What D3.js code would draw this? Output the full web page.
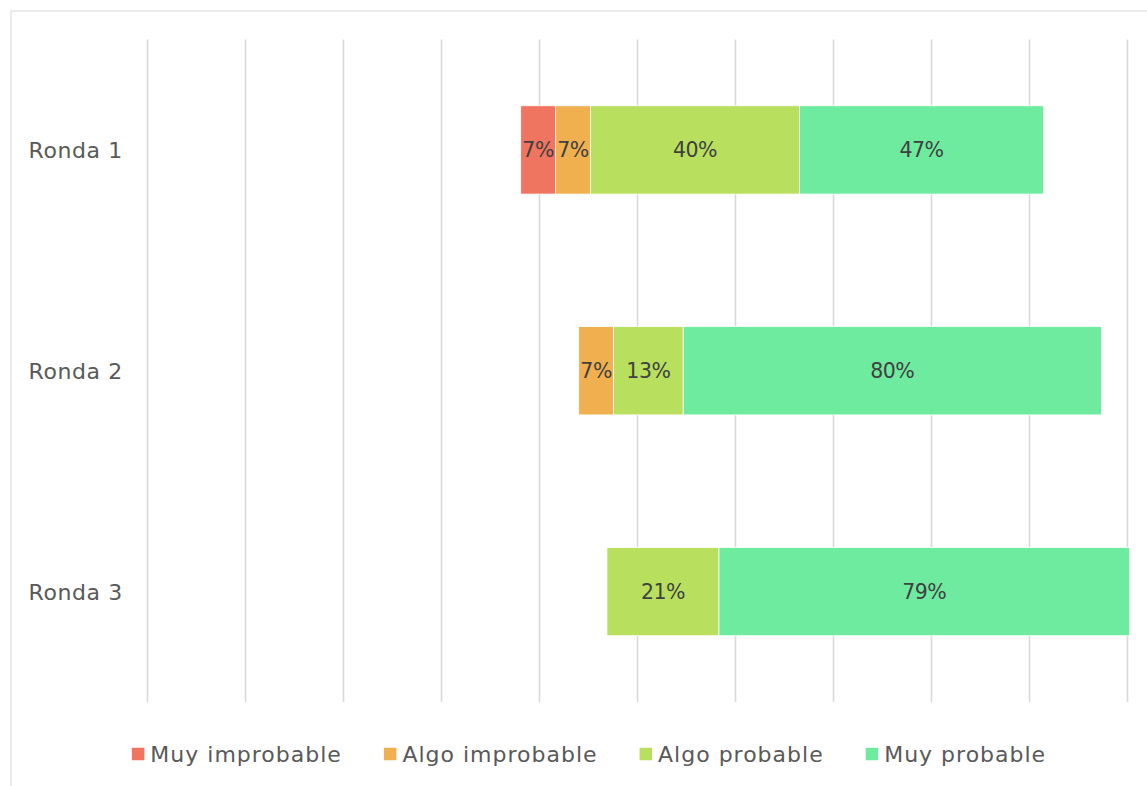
<!DOCTYPE html>
<html><head><meta charset="utf-8">
<script src="https://cdn.jsdelivr.net/npm/d3@7"></script>
<style>body{margin:0;background:#fff}</style>
</head><body><svg id="chart" width="1147" height="786"></svg>
<script>
// Survey rounds and the share of answers in each likelihood category (%)
const categories = ["Ronda 1", "Ronda 2", "Ronda 3"];
const seriesNames = ["Muy improbable", "Algo improbable", "Algo probable", "Muy probable"];
const muyImprobable  = [6.67, 0, 0];
const algoImprobable = [6.67, 6.67, 0];
const algoProbable   = [40.00, 13.33, 21.43];
const muyProbable    = [46.67, 80.00, 78.57];
// invisible spacer that pushes each bar to the right
const offsets = [71.4, 82.5, 87.9];
const axisMax = 187.5;
const gridCount = 10;
const colors = ["#F07560", "#F0B050", "#B8E05E", "#6FEBA0"];

const font = "'Century Gothic', 'DejaVu Sans', sans-serif";
const svg = d3.select("#chart");

// chart frame
svg.append("rect").attr("x", 11).attr("y", 11).attr("width", 1150).attr("height", 790)
  .attr("fill", "none").attr("stroke", "#d9d9d9").attr("stroke-width", 1);

const x = d3.scaleLinear().domain([0, axisMax]).range([147.5, 1127.5]);
const y = d3.scaleBand().domain(categories).range([39.5, 702]).paddingInner(0.6).paddingOuter(0.3);

// vertical gridlines
const gridVals = d3.range(gridCount + 1).map(i => axisMax * i / gridCount);
svg.append("g").selectAll("line").data(gridVals).join("line")
  .attr("x1", d => x(d)).attr("x2", d => x(d))
  .attr("y1", 39.5).attr("y2", 702)
  .attr("stroke", "#d9d9d9").attr("stroke-width", 1.6);

const seriesValues = [muyImprobable, algoImprobable, algoProbable, muyProbable];
const rows = categories.map((c, i) => {
  const r = { cat: c, offset: offsets[i] };
  seriesNames.forEach((s, j) => r[s] = seriesValues[j][i]);
  return r;
});
const stack = d3.stack().keys(["offset", ...seriesNames]);
const layers = stack(rows).slice(1);

const fmt = v => d3.format(".0f")(v) + "%";

const lg = svg.append("g").selectAll("g").data(layers).join("g")
  .attr("fill", (d, i) => colors[i]);
lg.selectAll("rect").data(d => d.filter(p => p[1] - p[0] > 0)).join("rect")
  .attr("x", p => x(p[0]))
  .attr("width", p => x(p[1]) - x(p[0]))
  .attr("y", p => y(p.data.cat))
  .attr("height", y.bandwidth())
  .attr("stroke", "#ffffff").attr("stroke-width", 0.8);

// value labels
const labelG = svg.append("g");
layers.forEach(layer => {
  layer.filter(p => p[1] - p[0] > 0).forEach(p => {
    labelG.append("text")
      .attr("x", (x(p[0]) + x(p[1])) / 2)
      .attr("y", y(p.data.cat) + y.bandwidth() / 2)
      .attr("dy", "0.36em")
      .attr("text-anchor", "middle")
      .attr("font-family", font).attr("font-size", 20.5)
      .attr("letter-spacing", -0.5)
      .attr("fill", "#404040")
      .text(fmt(p[1] - p[0]));
  });
});

// category labels
svg.append("g").selectAll("text").data(categories).join("text")
  .attr("x", 28.5)
  .attr("y", d => y(d) + y.bandwidth() / 2)
  .attr("dy", "0.36em")
  .attr("font-family", font).attr("font-size", 22)
  .attr("letter-spacing", 0.6)
  .attr("fill", "#595959")
  .text(d => d);

// legend, centred under the plot
const legend = svg.append("g");
const items = seriesNames.map((name, i) => {
  const g = legend.append("g");
  g.append("rect").attr("width", 12.5).attr("height", 12.5).attr("y", -6.25).attr("fill", colors[i]);
  const t = g.append("text").attr("x", 18.5).attr("dy", "0.36em")
    .attr("font-family", font).attr("font-size", 22).attr("letter-spacing", 1)
    .attr("fill", "#595959").text(name);
  return { g, w: 18.5 + t.node().getComputedTextLength() };
});
const gap = 42;
const total = d3.sum(items, d => d.w) + gap * (items.length - 1);
let cx = 589 - total / 2;
items.forEach(it => {
  it.g.attr("transform", `translate(${cx},754)`);
  cx += it.w + gap;
});
</script></body></html>
